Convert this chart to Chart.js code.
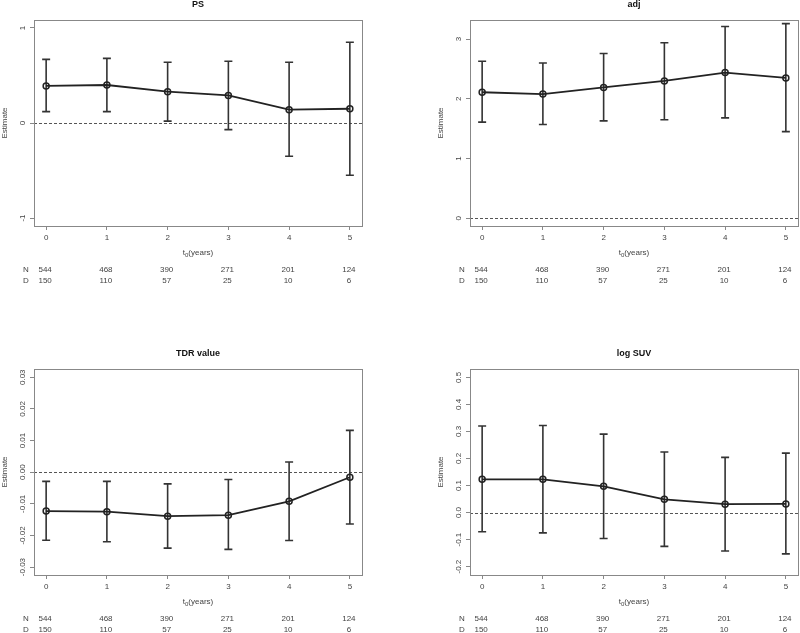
<!DOCTYPE html>
<html>
<head>
<meta charset="utf-8">
<script src="https://cdn.jsdelivr.net/npm/chart.js@4"></script>
<style>
  body { margin: 0; background: #fff; }
  canvas { position: absolute; }
</style>
</head>
<body>
<canvas id="ps" width="400" height="316" style="left:0;top:0"></canvas>
<canvas id="adj" width="400" height="316" style="left:400px;top:0"></canvas>
<canvas id="tdr" width="400" height="317" style="left:0;top:316px"></canvas>
<canvas id="suv" width="400" height="317" style="left:400px;top:316px"></canvas>
<script>
const years = [0, 1, 2, 3, 4, 5];
const atRisk = [544, 468, 390, 271, 201, 124];
const events = [150, 110, 57, 25, 10, 6];

const psEst = [0.39, 0.40, 0.33, 0.29, 0.14, 0.15];
const psLow = [0.12, 0.12, 0.02, -0.07, -0.35, -0.55];
const psHigh = [0.67, 0.68, 0.64, 0.65, 0.64, 0.85];
const psTicks = [-1, 0, 1];

const adjEst = [2.11, 2.08, 2.19, 2.30, 2.44, 2.35];
const adjLow = [1.61, 1.57, 1.63, 1.65, 1.68, 1.45];
const adjHigh = [2.63, 2.60, 2.76, 2.94, 3.21, 3.26];
const adjTicks = [0, 1, 2, 3];

const tdrEst = [-0.0123, -0.0125, -0.0139, -0.0136, -0.0092, -0.0016];
const tdrLow = [-0.0215, -0.0220, -0.0240, -0.0244, -0.0216, -0.0164];
const tdrHigh = [-0.0029, -0.0029, -0.0037, -0.0023, 0.0032, 0.0132];
const tdrTicks = [-0.03, -0.02, -0.01, 0, 0.01, 0.02, 0.03];

const suvEst = [0.123, 0.123, 0.097, 0.049, 0.031, 0.032];
const suvLow = [-0.071, -0.075, -0.096, -0.125, -0.142, -0.153];
const suvHigh = [0.320, 0.322, 0.290, 0.224, 0.204, 0.220];
const suvTicks = [-0.2, -0.1, 0, 0.1, 0.2, 0.3, 0.4, 0.5];

const FONT = '"Liberation Sans", Arial, sans-serif';
const TEXT = '#444';
const AXIS = '#888';

function makePanel(id, title, est, low, high, yTicks, digits, yMin, yMax, box) {
  const canvas = document.getElementById(id);
  const W = canvas.width, H = canvas.height;
  const yWidth = 30;

  const rplot = {
    id: 'rplot',
    beforeDatasetsDraw(chart) {
      const ctx = chart.ctx, x = chart.scales.x, y = chart.scales.y, a = chart.chartArea;
      ctx.save();
      // reference line at zero
      ctx.strokeStyle = '#555';
      ctx.lineWidth = 1;
      ctx.setLineDash([3, 2]);
      const y0 = Math.round(y.getPixelForValue(0)) + 0.5;
      ctx.beginPath();
      ctx.moveTo(a.left, y0);
      ctx.lineTo(a.right, y0);
      ctx.stroke();
      ctx.setLineDash([]);
      // error bars
      ctx.strokeStyle = '#333';
      ctx.lineWidth = 1.6;
      years.forEach((v, i) => {
        const px = x.getPixelForValue(v);
        const lo = y.getPixelForValue(low[i]);
        const hi = y.getPixelForValue(high[i]);
        ctx.beginPath();
        ctx.moveTo(px, lo); ctx.lineTo(px, hi);
        ctx.moveTo(px - 4, lo); ctx.lineTo(px + 4, lo);
        ctx.moveTo(px - 4, hi); ctx.lineTo(px + 4, hi);
        ctx.stroke();
      });
      ctx.restore();
    },
    afterDraw(chart) {
      const ctx = chart.ctx, x = chart.scales.x, y = chart.scales.y, a = chart.chartArea;
      ctx.save();
      // box
      ctx.strokeStyle = AXIS;
      ctx.lineWidth = 1;
      ctx.strokeRect(Math.round(a.left) + 0.5, Math.round(a.top) + 0.5,
        Math.round(a.right - a.left), Math.round(a.bottom - a.top));

      const cx = (a.left + a.right) / 2;
      ctx.fillStyle = '#111';
      ctx.textAlign = 'center';
      ctx.textBaseline = 'middle';
      ctx.font = 'bold 9px ' + FONT;
      ctx.fillText(title, cx, a.top - 15);

      // y tick labels, rotated like R
      ctx.fillStyle = TEXT;
      ctx.font = '8px ' + FONT;
      y.ticks.forEach(t => {
        ctx.save();
        ctx.translate(a.left - 11, y.getPixelForValue(t.value));
        ctx.rotate(-Math.PI / 2);
        ctx.fillText(t.value.toFixed(digits), 0, 0);
        ctx.restore();
      });
      ctx.save();
      ctx.translate(a.left - 29, (a.top + a.bottom) / 2);
      ctx.rotate(-Math.PI / 2);
      ctx.fillText('Estimate', 0, 0);
      ctx.restore();

      // x axis title t0(years)
      const ty = a.bottom + 27;
      ctx.font = '8px ' + FONT;
      const w1 = ctx.measureText('t').width;
      const w3 = ctx.measureText('(years)').width;
      ctx.font = '6px ' + FONT;
      const w2 = ctx.measureText('0').width;
      let sx = cx - (w1 + w2 + w3) / 2;
      ctx.textAlign = 'left';
      ctx.font = '8px ' + FONT;
      ctx.fillText('t', sx, ty);
      ctx.font = '6px ' + FONT;
      ctx.fillText('0', sx + w1, ty + 2);
      ctx.font = '8px ' + FONT;
      ctx.fillText('(years)', sx + w1 + w2, ty);

      // numbers at risk / events
      ctx.textAlign = 'center';
      ctx.fillText('N', a.left - 8, a.bottom + 44);
      ctx.fillText('D', a.left - 8, a.bottom + 55);
      years.forEach((v, i) => {
        const px = x.getPixelForValue(v) - 1;
        ctx.fillText(String(atRisk[i]), px, a.bottom + 44);
        ctx.fillText(String(events[i]), px, a.bottom + 55);
      });
      ctx.restore();
    }
  };

  return new Chart(canvas.getContext('2d'), {
    type: 'line',
    data: {
      datasets: [{
        data: years.map((v, i) => ({ x: v, y: est[i] })),
        borderColor: '#222',
        borderWidth: 1.8,
        pointRadius: 3,
        pointBorderWidth: 1.5,
        pointBorderColor: '#222',
        pointBackgroundColor: 'rgba(0,0,0,0)',
        tension: 0
      }]
    },
    options: {
      responsive: false,
      animation: false,
      layout: {
        autoPadding: false,
        padding: { left: box.l - yWidth, right: W - box.r, top: box.t, bottom: 0 }
      },
      plugins: { legend: { display: false }, title: { display: false }, tooltip: { enabled: false } },
      scales: {
        x: {
          type: 'linear',
          min: -0.2,
          max: 5.2,
          afterBuildTicks: s => { s.ticks = years.map(v => ({ value: v })); },
          afterFit: s => { s.height = H - box.b; s.paddingLeft = 0; s.paddingRight = 0; },
          grid: { display: true, drawOnChartArea: false, drawTicks: true, tickLength: 4, color: AXIS },
          border: { display: false },
          ticks: { color: TEXT, font: { size: 8, family: FONT }, padding: 3, maxRotation: 0, autoSkip: false }
        },
        y: {
          min: yMin,
          max: yMax,
          afterBuildTicks: s => { s.ticks = yTicks.map(v => ({ value: v })); },
          afterFit: s => { s.width = yWidth; s.paddingTop = 0; s.paddingBottom = 0; },
          grid: { display: true, drawOnChartArea: false, drawTicks: true, tickLength: 4, color: AXIS },
          border: { display: false },
          ticks: { display: false }
        }
      }
    },
    plugins: [rplot]
  });
}

makePanel('ps', 'PS', psEst, psLow, psHigh, psTicks, 0, -1.084, 1.084,
  { l: 34, r: 362, t: 20, b: 226 });
makePanel('adj', 'adj', adjEst, adjLow, adjHigh, adjTicks, 0, -0.13, 3.32,
  { l: 70, r: 398, t: 20, b: 226 });
makePanel('tdr', 'TDR value', tdrEst, tdrLow, tdrHigh, tdrTicks, 2, -0.0325, 0.0326,
  { l: 34, r: 362, t: 53, b: 259 });
makePanel('suv', 'log SUV', suvEst, suvLow, suvHigh, suvTicks, 1, -0.231, 0.531,
  { l: 70, r: 398, t: 53, b: 259 });
</script>
</body>
</html>
